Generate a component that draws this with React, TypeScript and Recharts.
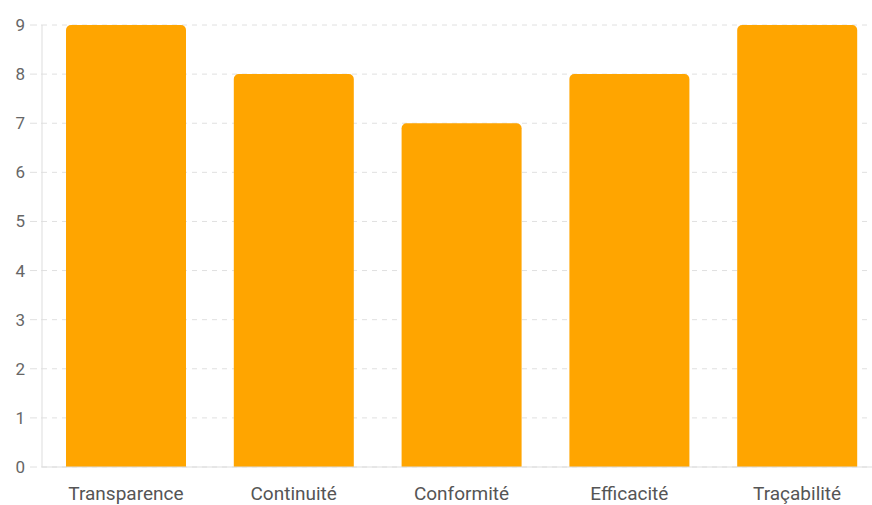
import { BarChart, Bar, XAxis, YAxis, CartesianGrid } from 'recharts';

const categories = ['Transparence', 'Continuité', 'Conformité', 'Efficacité', 'Traçabilité'];
const scores = [9, 8, 7, 8, 9];
const yTicks = [0, 1, 2, 3, 4, 5, 6, 7, 8, 9];

const data = categories.map((name, i) => ({ name, score: scores[i] }));

const yTickStyle = { fill: '#666', fontSize: 17, fontFamily: 'Roboto' };
const xTickStyle = { fill: '#555', fontSize: 19, fontFamily: 'Roboto' };

export default function App() {
  return (
    <div style={{ position: 'absolute', top: 0, left: 0, width: 872, height: 505, overflow: 'hidden', background: '#fff' }}>
      <BarChart
        width={890}
        height={505}
        data={data}
        margin={{ top: 25, right: 9, bottom: 0, left: 0 }}
      >
        <CartesianGrid vertical={false} stroke="#e0e0e0" strokeDasharray="5 5" />
        <XAxis
          dataKey="name"
          height={38}
          stroke="#ddd"
          tickLine={false}
          tickMargin={14}
          tick={xTickStyle}
        />
        <YAxis
          width={42}
          domain={[0, 9]}
          ticks={yTicks}
          interval={0}
          stroke="#ddd"
          tickSize={12}
          tickMargin={5}
          tickLine={{ stroke: '#e0e0e0', strokeDasharray: '7 4' }}
          tick={yTickStyle}
        />
        <Bar dataKey="score" fill="#FFA500" barSize={120} radius={[5, 5, 0, 0]} isAnimationActive={false} />
      </BarChart>
    </div>
  );
}
